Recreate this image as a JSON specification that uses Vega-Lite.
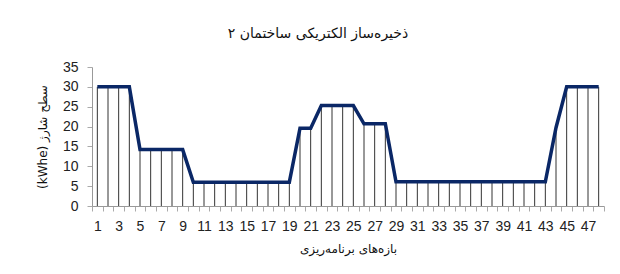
{
  "$schema": "https://vega.github.io/schema/vega-lite/v6.json",
  "autosize": {"type": "none"},
  "width": 512,
  "height": 139,
  "padding": {"left": 92, "top": 67, "right": 16, "bottom": 68},
  "background": "white",
  "config": {
    "view": {"stroke": null},
    "font": "Liberation Sans, DejaVu Sans, sans-serif"
  },
  "title": {
    "text": "ذخیره‌ساز الکتریکی ساختمان ۲",
    "fontSize": 14,
    "fontWeight": "normal",
    "color": "#111",
    "anchor": "middle",
    "dx": -30,
    "offset": 19,
    "font": "DejaVu Sans, sans-serif"
  },
  "data": {
    "values": [
      {"t": 1, "v": 30}, {"t": 2, "v": 30}, {"t": 3, "v": 30}, {"t": 4, "v": 30},
      {"t": 5, "v": 14.2}, {"t": 6, "v": 14.2}, {"t": 7, "v": 14.2}, {"t": 8, "v": 14.2}, {"t": 9, "v": 14.2},
      {"t": 10, "v": 6}, {"t": 11, "v": 6}, {"t": 12, "v": 6}, {"t": 13, "v": 6}, {"t": 14, "v": 6},
      {"t": 15, "v": 6}, {"t": 16, "v": 6}, {"t": 17, "v": 6}, {"t": 18, "v": 6}, {"t": 19, "v": 6},
      {"t": 20, "v": 19.6}, {"t": 21, "v": 19.6},
      {"t": 22, "v": 25.3}, {"t": 23, "v": 25.3}, {"t": 24, "v": 25.3}, {"t": 25, "v": 25.3},
      {"t": 26, "v": 20.7}, {"t": 27, "v": 20.7}, {"t": 28, "v": 20.7},
      {"t": 29, "v": 6.1}, {"t": 30, "v": 6.1}, {"t": 31, "v": 6.1}, {"t": 32, "v": 6.1}, {"t": 33, "v": 6.1},
      {"t": 34, "v": 6.1}, {"t": 35, "v": 6.1}, {"t": 36, "v": 6.1}, {"t": 37, "v": 6.1}, {"t": 38, "v": 6.1},
      {"t": 39, "v": 6.1}, {"t": 40, "v": 6.1}, {"t": 41, "v": 6.1}, {"t": 42, "v": 6.1}, {"t": 43, "v": 6.1},
      {"t": 44, "v": 19.7},
      {"t": 45, "v": 30}, {"t": 46, "v": 30}, {"t": 47, "v": 30}, {"t": 48, "v": 30}
    ]
  },
  "encoding": {
    "x": {
      "field": "t",
      "type": "ordinal",
      "sort": null,
      "scale": {"paddingInner": 0, "paddingOuter": 0},
      "axis": {
        "title": "بازه‌های برنامه‌ریزی",
        "titleFont": "DejaVu Sans, sans-serif",
        "titleFontSize": 12,
        "titleFontWeight": "normal",
        "titleColor": "#111",
        "titlePadding": 10,
        "labelAngle": 0,
        "labelFontSize": 14,
        "labelColor": "#222",
        "labelPadding": 8,
        "labelExpr": "datum.value % 2 == 1 ? datum.label : ''",
        "labelOverlap": false,
        "tickBand": "extent",
        "tickSize": 5,
        "tickColor": "#aaa",
        "domainColor": "#999",
        "grid": false
      }
    },
    "y": {
      "field": "v",
      "type": "quantitative",
      "scale": {"domain": [0, 35], "nice": false},
      "axis": {
        "title": "(kWhe) سطح شارژ",
        "titleFont": "DejaVu Sans, sans-serif",
        "titleFontSize": 12,
        "titleFontWeight": "normal",
        "titleColor": "#111",
        "titlePadding": 13,
        "values": [0, 5, 10, 15, 20, 25, 30, 35],
        "labelFontSize": 14,
        "labelColor": "#222",
        "labelPadding": 9,
        "tickSize": 5,
        "tickColor": "#aaa",
        "domainColor": "#999",
        "grid": false
      }
    }
  },
  "layer": [
    {
      "mark": {"type": "rule", "color": "#333", "strokeWidth": 1},
      "encoding": {"y2": {"datum": 0}}
    },
    {
      "mark": {"type": "line", "color": "#0a2766", "strokeWidth": 3.5, "strokeJoin": "miter"}
    }
  ]
}
